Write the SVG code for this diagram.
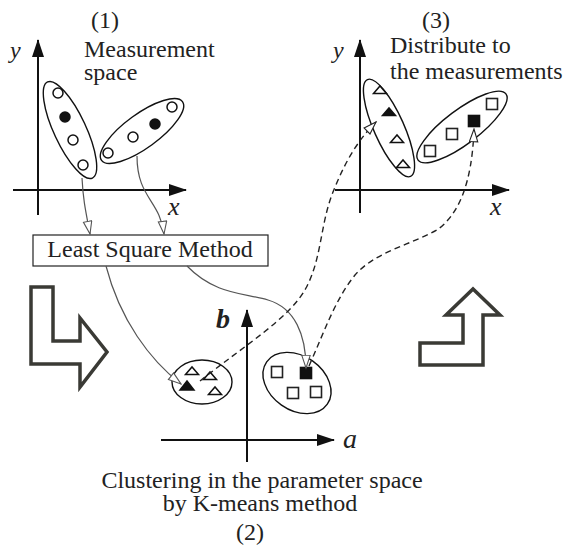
<svg xmlns="http://www.w3.org/2000/svg" width="578" height="550" viewBox="0 0 578 550">
  <style>
    text { font-family: 'Liberation Serif', 'DejaVu Serif', serif; }
    .t { font-size: 24px; fill: #222; }
    .ax { font-style: italic; fill: #222; }
    .axis { stroke: #111; stroke-width: 2; fill: none; }
    .clu { fill: none; stroke: #111; stroke-width: 1.4; }
    .pt { fill: #fff; stroke: #111; stroke-width: 1.5; }
    .pf { fill: #111; stroke: #111; stroke-width: 1.5; }
    .sq { fill: #fff; stroke: #222; stroke-width: 1.6; }
    .sf { fill: #111; stroke: #111; stroke-width: 1.6; }
    .link { fill: none; stroke: #555; stroke-width: 1.2; }
    .dash { fill: none; stroke: #222; stroke-width: 1.4; stroke-dasharray: 6 4; }
    .big { fill: #fff; stroke: #3a3a35; stroke-width: 3.5; stroke-linejoin: miter; }
  </style>
  <defs>
    <marker id="axHead" markerUnits="userSpaceOnUse" markerWidth="18" markerHeight="12" refX="17" refY="6" orient="auto">
      <path d="M0,0 L18,6 L0,12 z" fill="#111"/>
    </marker>
    <marker id="open" markerUnits="userSpaceOnUse" markerWidth="15" markerHeight="11" refX="13.5" refY="5" orient="auto">
      <path d="M0.8,0.8 L13.5,5 L0.8,9.2 z" fill="#fff" stroke="#555" stroke-width="1.1"/>
    </marker>
    <marker id="openD" markerUnits="userSpaceOnUse" markerWidth="15" markerHeight="11" refX="13.5" refY="5" orient="auto">
      <path d="M0.8,0.8 L13.5,5 L0.8,9.2 z" fill="#fff" stroke="#222" stroke-width="1.1"/>
    </marker>
    <path id="tri" d="M-6.5,3.5 L6.5,3.5 L0,-4 z"/>
    <rect id="box" x="-5.5" y="-5.5" width="11" height="11"/>
  </defs>

  <!-- (1) measurement space -->
  <g id="panel1" font-family="Liberation Serif, DejaVu Serif, serif">
    <text class="t" x="105" y="28" text-anchor="middle">(1)</text>
    <text class="t" x="84" y="57">Measurement</text>
    <text class="t" x="84" y="80">space</text>
    <line class="axis" x1="38" y1="215" x2="38" y2="40" marker-end="url(#axHead)"/>
    <line class="axis" x1="13" y1="190" x2="186" y2="190" marker-end="url(#axHead)"/>
    <text class="ax" x="10" y="58" font-size="24">y</text>
    <text class="ax" x="168" y="215" font-size="26">x</text>
  </g>
  <g id="m-cluster-left">
    <ellipse class="clu" cx="70" cy="130" rx="53" ry="16" transform="rotate(65 70 130)"/>
    <circle class="pt" cx="58" cy="93" r="5"/>
    <circle class="pf" cx="65" cy="117" r="5"/>
    <circle class="pt" cx="73" cy="140" r="5"/>
    <circle class="pt" cx="83" cy="165" r="5"/>
  </g>
  <g id="m-cluster-right">
    <ellipse class="clu" cx="142" cy="131" rx="50" ry="17" transform="rotate(-36 142 131)"/>
    <circle class="pt" cx="108" cy="153" r="5"/>
    <circle class="pt" cx="133" cy="137" r="5"/>
    <circle class="pf" cx="155" cy="124" r="5"/>
    <circle class="pt" cx="172" cy="107" r="5"/>
  </g>

  <!-- least squares step -->
  <g id="lsm" font-family="Liberation Serif, DejaVu Serif, serif">
    <rect x="33" y="235" width="235" height="31" fill="#fff" stroke="#222" stroke-width="1.2"/>
    <text class="t" x="150" y="257" text-anchor="middle">Least Square Method</text>
  </g>

  <!-- (3) distributed result -->
  <g id="panel3" font-family="Liberation Serif, DejaVu Serif, serif">
    <text class="t" x="436" y="28" text-anchor="middle">(3)</text>
    <text class="t" x="390" y="53">Distribute to</text>
    <text class="t" x="390" y="79">the measurements</text>
    <line class="axis" x1="360" y1="213" x2="360" y2="40" marker-end="url(#axHead)"/>
    <line class="axis" x1="335" y1="190" x2="509" y2="190" marker-end="url(#axHead)"/>
    <text class="ax" x="333" y="58" font-size="24">y</text>
    <text class="ax" x="490" y="215" font-size="26">x</text>
  </g>
  <g id="r-cluster-left">
    <ellipse class="clu" cx="389" cy="128" rx="53" ry="15" transform="rotate(66 389 128)"/>
    <use href="#tri" class="pt" x="380" y="90"/>
    <use href="#tri" class="pf" x="389" y="112"/>
    <use href="#tri" class="pt" x="397" y="139"/>
    <use href="#tri" class="pt" x="403" y="164"/>
  </g>
  <g id="r-cluster-right">
    <ellipse class="clu" cx="462" cy="127" rx="55" ry="17" transform="rotate(-37 462 127)"/>
    <use href="#box" class="sq" x="430" y="151"/>
    <use href="#box" class="sq" x="452" y="134"/>
    <use href="#box" class="sf" x="474" y="121"/>
    <use href="#box" class="sq" x="492" y="104"/>
  </g>

  <!-- (2) parameter space -->
  <g id="panel2" font-family="Liberation Serif, DejaVu Serif, serif">
    <line class="axis" x1="247" y1="462" x2="247" y2="310" marker-end="url(#axHead)"/>
    <line class="axis" x1="161" y1="440" x2="334" y2="440" marker-end="url(#axHead)"/>
    <text class="ax" x="216" y="328" font-size="28" font-weight="bold">b</text>
    <text class="ax" x="343" y="448" font-size="28">a</text>
    <text class="t" x="262" y="488" text-anchor="middle">Clustering in the parameter space</text>
    <text class="t" x="260" y="511" text-anchor="middle">by K-means method</text>
    <text class="t" x="250" y="540" text-anchor="middle">(2)</text>
  </g>
  <g id="p-cluster-left">
    <ellipse class="clu" cx="202" cy="382" rx="30" ry="22"/>
    <use href="#tri" class="pt" x="192" y="371"/>
    <use href="#tri" class="pt" x="210" y="376"/>
    <use href="#tri" class="pt" x="215" y="391"/>
    <path d="M180,390 L194,390 L187,381 z" class="pf"/>
  </g>
  <g id="p-cluster-right">
    <ellipse class="clu" cx="297" cy="383" rx="37" ry="27" transform="rotate(35 297 383)"/>
    <use href="#box" class="sq" x="277" y="372"/>
    <use href="#box" class="sf" x="306" y="373"/>
    <use href="#box" class="sq" x="293" y="393"/>
    <use href="#box" class="sq" x="316" y="392"/>
  </g>

  <!-- step arrows -->
  <g id="step-down">
    <polygon class="big" points="31,287 53,287 53,341 80,341 80,318 107,352 80,387 80,364 31,364"/>
  </g>
  <g id="step-up">
    <polygon class="big" points="420,343 463,343 463,315 446,315 473,289 500,315 483,315 483,365 420,365"/>
  </g>

  <!-- connectors -->
  <g id="connectors">
    <path class="link" d="M82,178 C83,198 85,208 90,234" marker-end="url(#open)"/>
    <path class="link" d="M137,156 C137,198 160,200 164,234" marker-end="url(#open)"/>
    <path class="link" d="M106,266 C120,320 150,360 181,384" marker-end="url(#open)"/>
    <path class="link" d="M187,266 C215,295 245,293 268,300 C295,308 306,335 306,368" marker-end="url(#open)"/>
    <path class="dash" d="M200,381 C245,345 290,318 306,288 C322,258 320,225 333,192 C343,167 355,143 376,122" marker-end="url(#openD)"/>
    <path class="dash" d="M309,366 C325,330 335,300 355,275 C375,252 410,245 437,230 C458,215 472,185 474,129" marker-end="url(#openD)"/>
  </g>
</svg>
